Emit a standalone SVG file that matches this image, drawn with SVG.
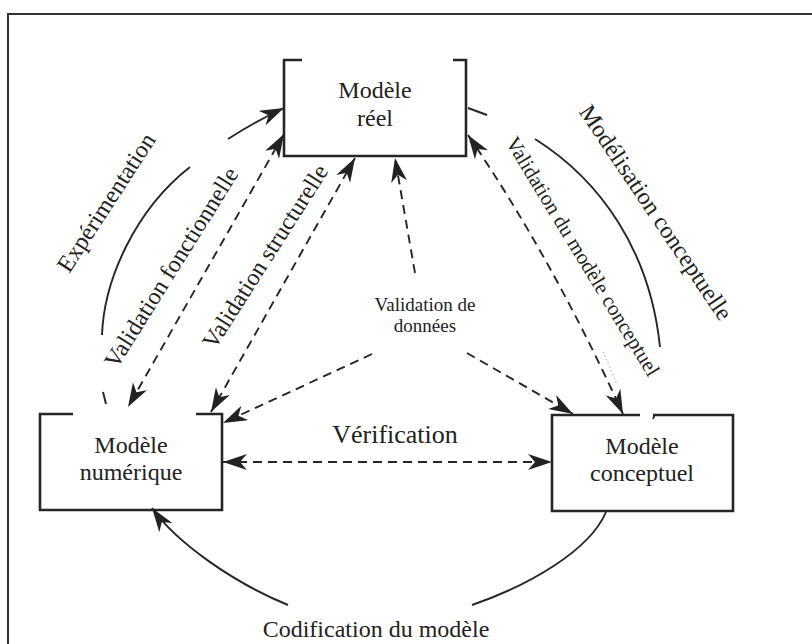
<svg xmlns="http://www.w3.org/2000/svg" width="812" height="644" viewBox="0 0 812 644">
  <defs>
    <style>
      .frame { fill: none; stroke: #333; stroke-width: 2; }
      .box { fill: none; stroke: #262626; stroke-width: 2.6; }
      .solid { fill: none; stroke: #262626; stroke-width: 1.9; }
      .dash { fill: none; stroke: #262626; stroke-width: 1.9; stroke-dasharray: 9 6; }
      .dots { fill: none; stroke: #888; stroke-width: 1; stroke-dasharray: 1 3; }
      .lbl { font-family: "Liberation Serif", "Times New Roman", serif; fill: #222; text-anchor: middle; }
    </style>
    <!-- barbed filled arrowhead shared by all connectors -->
    <marker id="head" viewBox="0 0 24 16" refX="24" refY="8" markerWidth="24" markerHeight="16" markerUnits="userSpaceOnUse" orient="auto-start-reverse">
      <path d="M0,0 L24,8 L0,16 L7,8 Z" fill="#222"/>
    </marker>
  </defs>

  <rect width="812" height="644" fill="#fff"/>
  <!-- outer frame, open on the right and bottom -->
  <path class="frame" d="M8,644 V14 H812"/>

  <g id="modele-reel">
    <path class="box" d="M302,60 H284 V156 H466 V60 H453"/>
    <text class="lbl" x="375" y="98" font-size="24">Modèle</text>
    <text class="lbl" x="375" y="126" font-size="24">réel</text>
  </g>

  <g id="modele-numerique">
    <path class="box" d="M73,414 H40 V510 H222 V414 H196"/>
    <text class="lbl" x="131" y="453" font-size="24">Modèle</text>
    <text class="lbl" x="131" y="480" font-size="24">numérique</text>
  </g>

  <g id="modele-conceptuel">
    <path class="box" d="M640,415 H552 V511 H733 V415 H653"/>
    <path class="solid" d="M653,419 L655,414"/>
    <text class="lbl" x="642" y="454" font-size="24">Modèle</text>
    <text class="lbl" x="642" y="481" font-size="24">conceptuel</text>
  </g>

  <g id="connectors">
    <!-- Expérimentation: numérique -> réel -->
    <path class="solid" d="M103,392 L106,404"/>
    <path class="solid" d="M102,335 C104,280 135,210 190,167"/>
    <path class="solid" d="M228,139 Q256,121 284,108" marker-end="url(#head)"/>

    <!-- Modélisation conceptuelle: réel -> conceptuel -->
    <path class="solid" d="M468,108 L487,115"/>
    <path class="solid" d="M535,139 C600,180 650,250 660,347"/>
    <path class="dots" d="M603,352 L617,384"/>

    <!-- Codification du modèle: conceptuel -> numérique -->
    <path class="solid" d="M606,512 C590,550 530,585 472,605"/>
    <path class="solid" d="M288,605 C232,582 176,542 152,508" marker-end="url(#head)"/>

    <!-- Validation fonctionnelle -->
    <path class="dash" d="M284,134 L128,407" marker-start="url(#head)" marker-end="url(#head)"/>
    <!-- Validation structurelle -->
    <path class="dash" d="M355,158 L211,412" marker-start="url(#head)" marker-end="url(#head)"/>
    <!-- Validation du modèle conceptuel -->
    <path class="dash" d="M468,135 Q552,258 623,414" marker-start="url(#head)" marker-end="url(#head)"/>

    <!-- Validation de données -->
    <path class="dash" d="M415,273 L395,158" marker-end="url(#head)"/>
    <path class="dash" d="M372,354 L223,423" marker-end="url(#head)"/>
    <path class="dash" d="M467,353 L573,414" marker-end="url(#head)"/>

    <!-- Vérification -->
    <path class="dash" d="M223,462 L552,462" marker-start="url(#head)" marker-end="url(#head)"/>
  </g>

  <g id="labels">
    <text class="lbl" font-size="24" transform="translate(107,203) rotate(-57)" y="7">Expérimentation</text>
    <text class="lbl" font-size="24" transform="translate(172,268) rotate(-58)" y="7">Validation fonctionnelle</text>
    <text class="lbl" font-size="24" transform="translate(266,257) rotate(-57.5)" y="7">Validation structurelle</text>
    <text class="lbl" font-size="24" transform="translate(655,213) rotate(56)" y="7">Modélisation conceptuelle</text>
    <text class="lbl" font-size="21" transform="translate(582,257) rotate(58.7)" y="6">Validation du modèle conceptuel</text>
    <text class="lbl" font-size="19" x="425" y="311">Validation de</text>
    <text class="lbl" font-size="19" x="425" y="332">données</text>
    <text class="lbl" font-size="26" x="395" y="443">Vérification</text>
    <text class="lbl" font-size="24" x="376" y="637">Codification du modèle</text>
  </g>
</svg>
